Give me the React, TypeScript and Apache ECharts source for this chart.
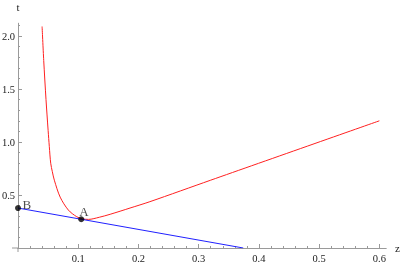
import React, { useEffect, useRef } from "react";
import * as echarts from "echarts";

const redCurve: [number, number][] = [
  [0.040, 2.09], [0.0427, 1.77], [0.0465, 1.40], [0.050, 1.11], [0.052, 0.956],
  [0.0543, 0.80], [0.057, 0.72], [0.0603, 0.64], [0.070, 0.48], [0.0836, 0.358],
  [0.0975, 0.295], [0.107, 0.275], [0.117, 0.27], [0.135, 0.29], [0.153, 0.318],
  [0.186, 0.377], [0.219, 0.437], [0.32, 0.64], [0.6, 1.2],
];
const blueLine: [number, number][] = [[0, 0.377], [0.374, 0]];
const points = [
  { name: "A", value: [0.105, 0.271] },
  { name: "B", value: [0, 0.377] },
];
const xMajor = [0.1, 0.2, 0.3, 0.4, 0.5, 0.6];
const xMinor = [0.02, 0.04, 0.06, 0.08, 0.12, 0.14, 0.16, 0.18, 0.22, 0.24, 0.26, 0.28,
  0.32, 0.34, 0.36, 0.38, 0.42, 0.44, 0.46, 0.48, 0.52, 0.54, 0.56, 0.58];
const yMajor = [0.5, 1.0, 1.5, 2.0];
const yMinor = [0.1, 0.2, 0.3, 0.4, 0.6, 0.7, 0.8, 0.9, 1.1, 1.2, 1.3, 1.4, 1.6, 1.7, 1.8, 1.9, 2.1];

const FONT = "'Times New Roman', Times, 'Liberation Serif', serif";
const AXIS = "#9a9a9a";
const TEXT = "#222";

export default function App() {
  const ref = useRef<HTMLDivElement>(null);
  useEffect(() => {
    const chart = echarts.init(ref.current!, undefined, { renderer: "svg" });
    const fmt = (v: number) => v.toFixed(1);
    const xBase = {
      type: "value", min: 0, max: 0.611, position: "bottom",
      axisLine: { onZero: false, lineStyle: { color: AXIS, width: 1 } },
      splitLine: { show: false },
    };
    const yBase = {
      type: "value", min: 0, max: 2.12, position: "left",
      axisLine: { onZero: false, lineStyle: { color: AXIS, width: 1 } },
      splitLine: { show: false },
    };
    chart.setOption({
      animation: false,
      grid: { left: 18, top: 23.3, width: 368, height: 224.7, containLabel: false, outerBoundsMode: "none" },
      graphic: [
        { type: "line", shape: { x1: 12, y1: 248, x2: 18, y2: 248 }, style: { stroke: AXIS, lineWidth: 1 }, silent: true },
        { type: "line", shape: { x1: 18, y1: 248, x2: 18, y2: 252 }, style: { stroke: AXIS, lineWidth: 1 }, silent: true },
      ],
      xAxis: [
        {
          ...xBase,
          name: "z", nameLocation: "end", nameGap: 9,
          nameTextStyle: { fontFamily: FONT, fontSize: 11, color: TEXT, verticalAlign: "middle", padding: [3, 0, 0, 0] },
          axisTick: { show: true, inside: true, length: 4, customValues: xMajor, lineStyle: { color: AXIS } },
          axisLabel: { show: true, customValues: xMajor, formatter: fmt, margin: 5, fontFamily: FONT, fontSize: 10.5, color: TEXT },
        },
        {
          ...xBase,
          axisTick: { show: true, inside: true, length: 2, customValues: xMinor, lineStyle: { color: AXIS } },
          axisLabel: { show: false },
        },
      ],
      yAxis: [
        {
          ...yBase,
          name: "t", nameLocation: "end", nameGap: 11,
          nameTextStyle: { fontFamily: FONT, fontSize: 11, color: TEXT, align: "center" },
          axisTick: { show: true, inside: true, length: 4, customValues: yMajor, lineStyle: { color: AXIS } },
          axisLabel: { show: true, customValues: yMajor, formatter: fmt, margin: 3, fontFamily: FONT, fontSize: 10.5, color: TEXT },
        },
        {
          ...yBase,
          axisTick: { show: true, inside: true, length: 2, customValues: yMinor, lineStyle: { color: AXIS } },
          axisLabel: { show: false },
        },
      ],
      series: [
        {
          type: "line", data: redCurve, smooth: 0.3, showSymbol: false,
          lineStyle: { color: "#ff2020", width: 1 }, xAxisIndex: 0, yAxisIndex: 0,
        },
        {
          type: "line", data: blueLine, showSymbol: false,
          lineStyle: { color: "#2020ff", width: 1 }, xAxisIndex: 0, yAxisIndex: 0,
        },
        {
          type: "scatter", symbol: "circle", symbolSize: 6,
          itemStyle: { color: "#000" }, xAxisIndex: 0, yAxisIndex: 0, z: 5,
          data: points.map((p, i) => ({
            ...p,
            label: { position: i === 0 ? [1, -11.5] : [7.5, -7.5] },
          })),
          label: {
            show: true, formatter: "{b}",
            fontFamily: FONT, fontSize: 13, color: TEXT,
          },
          clip: false,
        },
      ],
    });
    return () => chart.dispose();
  }, []);
  return <div ref={ref} style={{ position: "fixed", left: 0, top: 0, width: 402, height: 266 }} />;
}
